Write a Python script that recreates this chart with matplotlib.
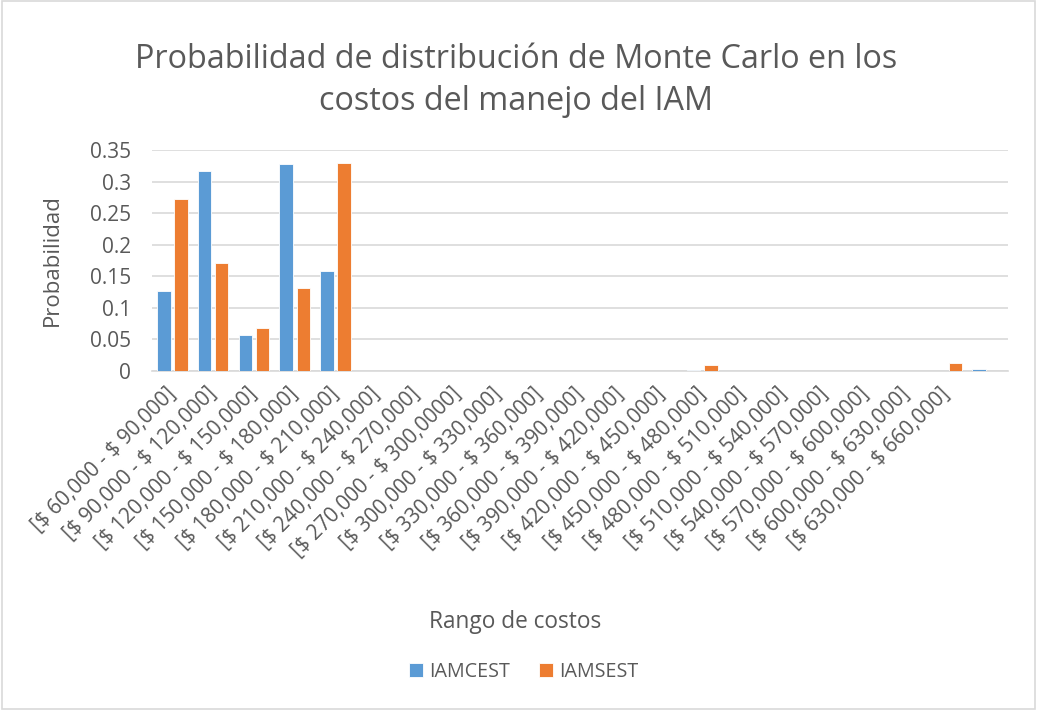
import matplotlib
matplotlib.use("Agg")
import matplotlib.pyplot as plt
import numpy as np
from matplotlib.patches import Rectangle

categories = [
    "[$ 60,000 - $ 90,000]", "[$ 90,000 - $ 120,000]", "[$ 120,000 - $ 150,000]",
    "[$ 150,000 - $ 180,000]", "[$ 180,000 - $ 210,000]", "[$ 210,000 - $ 240,000]",
    "[$ 240,000 - $ 270,000]", "[$ 270,000 - $ 300,0000]", "[$ 300,000 - $ 330,000]",
    "[$ 330,000 - $ 360,000]", "[$ 360,000 - $ 390,000]", "[$ 390,000 - $ 420,000]",
    "[$ 420,000 - $ 450,000]", "[$ 450,000 - $ 480,000]", "[$ 480,000 - $ 510,000]",
    "[$ 510,000 - $ 540,000]", "[$ 540,000 - $ 570,000]", "[$ 570,000 - $ 600,000]",
    "[$ 600,000 - $ 630,000]", "[$ 630,000 - $ 660,000]", "",
]
iamcest = [0.126, 0.316, 0.057, 0.328, 0.159, 0, 0, 0, 0, 0, 0, 0, 0, 0.0017,
           0, 0, 0, 0, 0, 0, 0.0037]
iamsest = [0.272, 0.171, 0.068, 0.131, 0.330, 0, 0, 0, 0, 0, 0, 0, 0, 0.0095,
           0, 0, 0, 0, 0, 0.0127, 0]
yticks = [0, 0.05, 0.1, 0.15, 0.2, 0.25, 0.3, 0.35]
ytick_labels = ["0", "0.05", "0.1", "0.15", "0.2", "0.25", "0.3", "0.35"]

plt.rcParams['font.family'] = ['Open Sans', 'DejaVu Sans']
plt.rcParams['text.parse_math'] = False
txt = '#595959'

fig = plt.figure(figsize=(10.37, 7.10), dpi=100)
ax = fig.add_axes([0.1466, 0.4775, 0.8254, 0.3112])

x = np.arange(len(categories))
w = 0.33
ax.bar(x - 0.21, iamcest, w, color='#5B9BD5', edgecolor='white', linewidth=0.6, label='IAMCEST', zorder=3)
ax.bar(x + 0.21, iamsest, w, color='#ED7D31', edgecolor='white', linewidth=0.6, label='IAMSEST', zorder=3)

ax.set_xlim(-0.5, len(categories) - 0.5)
ax.set_ylim(0, 0.35)
ax.set_yticks(yticks)
ax.set_yticklabels(ytick_labels, color=txt, fontsize=15)
ax.yaxis.grid(True, color='#d9d9d9', linewidth=1.2, zorder=0)
ax.set_axisbelow(True)
ax.set_xticks(x)
ax.set_xticklabels(categories, rotation=45, ha='right', va='center', rotation_mode='anchor',
                   color=txt, fontsize=15)
ax.tick_params(axis='y', length=0, pad=15)
ax.tick_params(axis='x', length=0, pad=14)
for s in ['top', 'right', 'left']:
    ax.spines[s].set_visible(False)
ax.spines['bottom'].set_color('#d9d9d9')
ax.spines['bottom'].set_linewidth(1.2)

ax.set_ylabel("Probabilidad", color=txt, fontsize=16)
ax.yaxis.set_label_coords(-0.104, 0.502)

fig.text(0.4976, 0.845, "Probabilidad de distribución de Monte Carlo en los\ncostos del manejo del IAM",
         ha='center', va='baseline', fontsize=23.3, color=txt, linespacing=1.38)
fig.text(0.4966, 0.124, "Rango de costos", ha='center', va='center', fontsize=16.3, color=txt)

fig.legend(loc='center', bbox_to_anchor=(0.505, 0.054), ncol=2, frameon=False,
           fontsize=14.2, labelcolor=txt, handlelength=0.7, handleheight=0.7,
           handletextpad=0.3, columnspacing=1.5)

fig.patches.append(Rectangle((0.002, 0.002), 0.996, 0.996, transform=fig.transFigure,
                             fill=False, edgecolor='#d9d9d9', linewidth=1.2))

fig.savefig("out.png", dpi=100, facecolor='white')
